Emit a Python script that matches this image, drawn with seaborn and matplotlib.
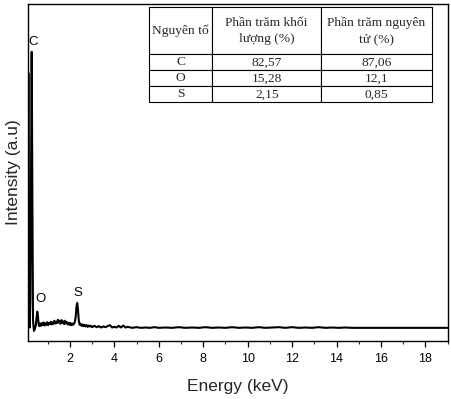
import matplotlib
matplotlib.use("Agg")
import matplotlib.pyplot as plt
import seaborn as sns
import pandas as pd
from matplotlib.ticker import MultipleLocator

# ---- data ----
energy = [0.10, 0.13, 0.16, 0.19, 0.22, 0.25, 0.28, 0.31, 0.34, 0.38, 0.42, 0.46,
          0.50, 0.53, 0.56, 0.59, 0.62, 0.66, 0.70, 0.74, 0.78, 0.82, 0.86, 0.90,
          0.94, 0.98, 1.02, 1.06, 1.10, 1.14, 1.18, 1.22, 1.26, 1.30, 1.34, 1.38,
          1.42, 1.46, 1.50, 1.54, 1.58, 1.62, 1.66, 1.70, 1.74, 1.78, 1.82, 1.86,
          1.90, 1.94, 1.98, 2.02, 2.06, 2.10, 2.14, 2.18, 2.22, 2.26, 2.30, 2.33,
          2.36, 2.40, 2.44, 2.48, 2.52, 2.56, 2.60, 2.65, 2.70, 2.75, 2.80, 2.85,
          2.90, 2.95, 3.00, 3.10, 3.20, 3.30, 3.40, 3.50, 3.60, 3.70, 3.80, 3.90,
          4.00, 4.10, 4.20, 4.30, 4.40, 4.50, 4.60, 4.80, 5.00, 5.20, 5.40, 5.60,
          5.80, 6.00, 6.30, 6.60, 6.90, 7.20, 7.50, 7.80, 8.10, 8.40, 8.70, 9.00,
          9.30, 9.60, 9.90, 10.20, 10.50, 10.80, 11.10, 11.40, 11.70, 12.00, 12.30,
          12.60, 12.90, 13.20, 13.50, 13.80, 14.10, 14.40, 14.70, 15.00, 16.00,
          17.00, 18.00, 19.00]
counts = [60, 795, 120, 40, 120, 500, 858, 420, 60, 30, 35, 45,
          70, 87, 75, 50, 44, 52, 45, 53, 47, 55, 46, 52,
          48, 56, 47, 53, 50, 57, 49, 55, 51, 60, 52, 57,
          53, 63, 55, 60, 51, 62, 54, 58, 50, 60, 52, 56,
          49, 54, 48, 53, 47, 52, 48, 51, 56, 72, 105, 113,
          95, 60, 48, 51, 45, 49, 44, 48, 43, 47, 42, 46,
          43, 45, 41, 45, 41, 44, 40, 43, 41, 44, 47, 40,
          42, 40, 45, 40, 46, 40, 42, 39, 41, 39, 40, 39,
          41, 39, 40, 39, 41, 39, 40, 39, 41, 39, 40, 39,
          41, 39, 40, 39, 41, 39, 40, 41, 39, 41, 39,
          40, 39, 41, 39, 40, 39, 40, 39, 39, 39,
          39, 39, 39]

peak_labels = ["C", "O", "S"]
peak_x = [0.36, 0.67, 2.36]
peak_y = [887, 125, 142]

table_header = ["Nguyên tố", "Phần trăm khối\nlượng (%)", "Phần trăm nguyên\ntử (%)"]
table_elements = ["C", "O", "S"]
mass_percent = ["82,57", "15,28", "2,15"]
atom_percent = ["87,06", "12,1", "0,85"]

xticks = [2, 4, 6, 8, 10, 12, 14, 16, 18]

# ---- plot ----
sns.set_style("ticks")
plt.rcParams['font.family'] = ['Liberation Sans', 'DejaVu Sans']

fig = plt.figure(figsize=(4.52, 3.99), dpi=100)
ax = fig.add_axes([0.0613, 0.1454, 0.929, 0.8446])

df = pd.DataFrame({"Energy": energy, "Counts": counts})
sns.lineplot(data=df, x="Energy", y="Counts", ax=ax, color="black",
             linewidth=1.5, estimator=None)

for lab, x, y in zip(peak_labels, peak_x, peak_y):
    ax.text(x, y, lab, ha="center", va="center", fontsize=9.5, color="black")

ax.set_xlim(0.1, 19.0)
ax.set_ylim(0, 1000)
ax.set_xticks(xticks)
ax.xaxis.set_minor_locator(MultipleLocator(1))
ax.tick_params(axis="x", which="major", direction="out", length=4, width=0.9,
               labelsize=9, pad=5, colors="black")
ax.tick_params(axis="x", which="minor", direction="out", length=2.5, width=0.8)
ax.set_yticks([])
ax.set_xlabel("Energy (keV)", fontsize=12.5, labelpad=10)
ax.set_ylabel("Intensity (a.u)", fontsize=12.5, labelpad=5)
for s in ax.spines.values():
    s.set_visible(True)
    s.set_linewidth(1.0)
    s.set_color("black")

cell_text = [[e, m, a] for e, m, a in zip(table_elements, mass_percent, atom_percent)]
tab = ax.table(cellText=cell_text, colLabels=table_header, cellLoc="center",
               colWidths=[63, 109, 111],
               bbox=[0.2895, 0.708, 0.6735, 0.282])
tab.auto_set_font_size(False)
tab.set_fontsize(9.7)
for (r, c), cell in tab.get_celld().items():
    cell.set_linewidth(0.8)
    cell.set_edgecolor("black")
    cell.set_height(47 if r == 0 else 16)
    t = cell.get_text()
    t.set_fontfamily(["Liberation Serif", "DejaVu Serif"])
    t.set_linespacing(1.45)

fig.savefig("out.png", dpi=100)
